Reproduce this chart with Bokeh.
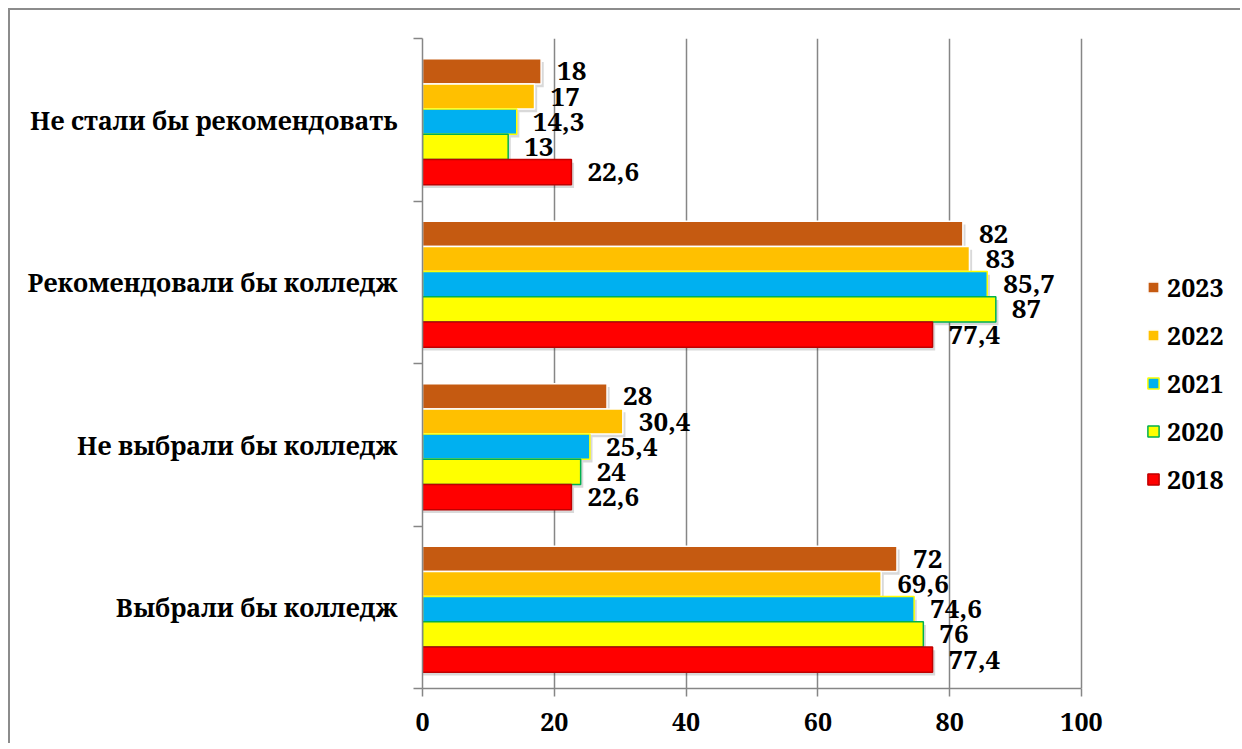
from bokeh.plotting import figure
from bokeh.models import ColumnDataSource, FixedTicker, Legend, LegendItem, Range1d
from bokeh.embed import file_html
from bokeh.resources import INLINE
from bokeh.core.properties import value

categories = ["Выбрали бы колледж", "Не выбрали бы колледж",
              "Рекомендовали бы колледж", "Не стали бы рекомендовать"]
years = ["2023", "2022", "2021", "2020", "2018"]
v2023 = [72, 28, 82, 18]
v2022 = [69.6, 30.4, 83, 17]
v2021 = [74.6, 25.4, 85.7, 14.3]
v2020 = [76, 24, 87, 13]
v2018 = [77.4, 22.6, 77.4, 22.6]
series = [v2023, v2022, v2021, v2020, v2018]
x_ticks = [0, 20, 40, 60, 80, 100]

fill_colors = ["#C55A11", "#FFC000", "#00B0F0", "#FFFF00", "#FF0000"]
line_colors = ["#FFFFFF", "#FFFFFF", "#FFFF00", "#00B050", "#C00000"]

FONT_NAME = "Noto Serif"
BAR_H = 0.155
offsets = [2, 1, 0, -1, -2]
X_END = 100 * 820 / 659

p = figure(width=1232, height=735, x_range=Range1d(0, X_END), y_range=Range1d(0, 4),
           output_backend="svg", toolbar_location=None,
           min_border_left=412, min_border_right=0, min_border_top=28, min_border_bottom=57)
p.outline_line_color = None
p.styles = {"border-left": "2px solid #8c8c8c", "border-top": "2px solid #8c8c8c",
            "margin-left": "8px", "margin-top": "8px"}

sources = []
for k, vals in enumerate(series):
    ys = [i + 0.5 + offsets[k] * BAR_H - 0.012 for i in range(len(categories))]
    src = ColumnDataSource(dict(
        y=ys, x=vals,
        ys=[y - 0.02 for y in ys],
        xs=[v + 0.4 for v in vals],
        label=[str(v).replace(".", ",") for v in vals],
    ))
    sources.append(src)

for src in sources:
    p.hbar(y="ys", right="xs", left=0, height=BAR_H, source=src,
           fill_color="#000000", fill_alpha=0.15, line_color=None)

renderers = []
for k, src in enumerate(sources):
    r = p.hbar(y="y", right="x", left=0, height=BAR_H, source=src,
               fill_color=fill_colors[k], line_color=line_colors[k], line_width=1.5)
    renderers.append(r)

for k, src in enumerate(sources):
    p.text(x="x", y="y", text="label", source=src, x_offset=16,
           text_baseline="middle", text_align="left", text_font=value(FONT_NAME),
           text_font_style="bold", text_font_size="26px", text_color="#000000")

xa = p.xaxis[0]
xa.ticker = FixedTicker(ticks=x_ticks)
xa.bounds = (0, 100)
xa.axis_line_color = "#868686"
xa.axis_line_width = 1.5
xa.major_tick_line_color = "#868686"
xa.major_tick_line_width = 1.5
xa.major_tick_out = 8
xa.major_tick_in = 0
xa.minor_tick_line_color = None
xa.major_label_text_font = FONT_NAME
xa.major_label_text_font_style = "bold"
xa.major_label_text_font_size = "25px"
xa.major_label_text_color = "#000000"
xa.major_label_standoff = 16

ya = p.yaxis[0]
ya.ticker = FixedTicker(ticks=[0.5, 1.5, 2.5, 3.5], minor_ticks=[0, 1, 2, 3, 4])
ya.major_label_overrides = {0.5: categories[0], 1.5: categories[1],
                            2.5: categories[2], 3.5: categories[3]}
ya.axis_line_color = "#868686"
ya.axis_line_width = 1.5
ya.major_tick_out = 0
ya.major_tick_in = 0
ya.minor_tick_out = 9
ya.minor_tick_in = 0
ya.minor_tick_line_color = "#868686"
ya.minor_tick_line_width = 1.5
ya.major_label_text_font = FONT_NAME
ya.major_label_text_font_style = "bold"
ya.major_label_text_font_size = "25px"
ya.major_label_text_color = "#000000"
ya.major_label_standoff = 16

p.xgrid.ticker = FixedTicker(ticks=[20, 40, 60, 80, 100])
p.xgrid.grid_line_color = "#868686"
p.xgrid.grid_line_width = 1.5
p.ygrid.grid_line_color = None

legend = Legend(items=[LegendItem(label=years[k], renderers=[renderers[k]]) for k in range(5)],
                location=(724, 192))
legend.glyph_width = 14
legend.glyph_height = 14
legend.label_standoff = 7
legend.spacing = 14
legend.padding = 0
legend.margin = 0
legend.border_line_color = None
legend.background_fill_alpha = 0
legend.label_text_font = FONT_NAME
legend.label_text_font_style = "bold"
legend.label_text_font_size = "25px"
legend.label_text_color = "#000000"
p.add_layout(legend, "center")

open("out.html", "w").write(file_html(p, INLINE))
